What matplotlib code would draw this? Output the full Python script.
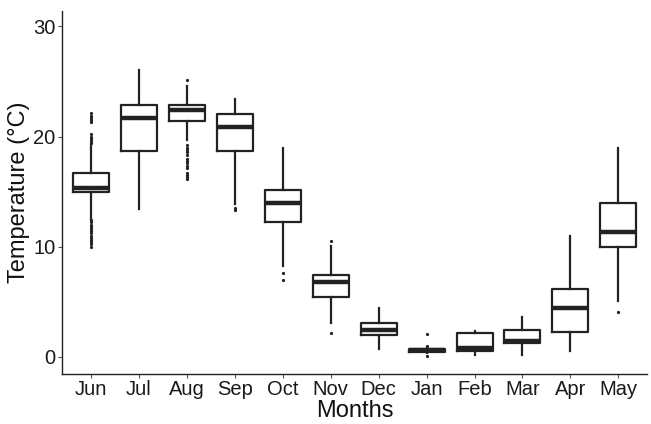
import matplotlib
matplotlib.use('Agg')
import matplotlib.pyplot as plt

plt.rcParams['font.family'] = ['Liberation Sans', 'DejaVu Sans']

# ── Data ─────────────────────────────────────────────────────────
months = ['Jun', 'Jul', 'Aug', 'Sep', 'Oct', 'Nov', 'Dec', 'Jan', 'Feb', 'Mar', 'Apr', 'May']
q1     = [14.97, 18.7, 21.45, 18.73, 12.2, 5.4, 1.95, 0.45, 0.55, 1.21, 2.22, 9.94]
med    = [15.37, 21.73, 22.37, 20.88, 14.0, 6.82, 2.43, 0.58, 0.76, 1.43, 4.4, 11.36]
q3     = [16.67, 22.88, 22.9, 22.06, 15.15, 7.43, 3.1, 0.72, 2.2, 2.43, 6.13, 13.94]
whislo = [12.5, 13.43, 19.7, 13.9, 8.25, 3.1, 0.7, 0.35, 0.15, 0.2, 0.55, 5.1]
whishi = [19.2, 26.0, 24.6, 23.4, 19.0, 10.06, 4.4, 0.85, 2.3, 3.64, 10.97, 19.0]
fliers = [
    [10.0, 10.2, 10.4, 10.6, 10.8, 11.0, 11.2, 11.4, 11.6, 11.8, 12.0, 12.2, 12.4,
     19.4, 19.6, 19.8, 20.0, 20.2, 21.3, 21.5, 21.7, 21.9, 22.1],
    [],
    [16.1, 16.3, 16.5, 16.7, 17.1, 17.3, 17.6, 17.8, 18.0, 18.3, 18.6, 18.8, 19.0, 19.2, 25.1],
    [13.3, 13.5],
    [6.97, 7.6],
    [2.2, 10.5],
    [],
    [0.1, 0.95, 2.1],
    [], [], [],
    [4.04],
]

stats = [dict(label=m, q1=a, med=b, q3=c, whislo=d, whishi=e, fliers=f)
         for m, a, b, c, d, e, f in zip(months, q1, med, q3, whislo, whishi, fliers)]

fig = plt.figure(figsize=(6.51, 4.24), dpi=100, facecolor='white')
ax = fig.add_axes([0.0957, 0.117, 0.8983, 0.857])

LINE = '#222222'
ax.bxp(stats, widths=0.75, showcaps=False, patch_artist=False,
       boxprops=dict(color=LINE, linewidth=1.6),
       whiskerprops=dict(color=LINE, linewidth=1.6),
       medianprops=dict(color=LINE, linewidth=3.2),
       flierprops=dict(marker='o', markersize=1.3, markerfacecolor=LINE,
                       markeredgecolor=LINE, linestyle='none'))

ax.set_xlim(0.4, 12.6)
ax.set_ylim(-1.6, 31.4)
ax.set_yticks([0, 10, 20, 30])
for side in ['top', 'right']:
    ax.spines[side].set_visible(False)
for side in ['left', 'bottom']:
    ax.spines[side].set_color(LINE)
    ax.spines[side].set_linewidth(1.0)
ax.tick_params(axis='both', length=3, width=0.8, color='#555555',
               labelsize=14.5, labelcolor='#1a1a1a', pad=2)
ax.tick_params(axis='x', pad=1)

ax.set_xlabel('Months', fontsize=17, color='#111111', labelpad=1)
ax.set_ylabel('Temperature (°C)', fontsize=17, color='#111111', labelpad=2)

plt.savefig('out.png', dpi=100, facecolor='white')
